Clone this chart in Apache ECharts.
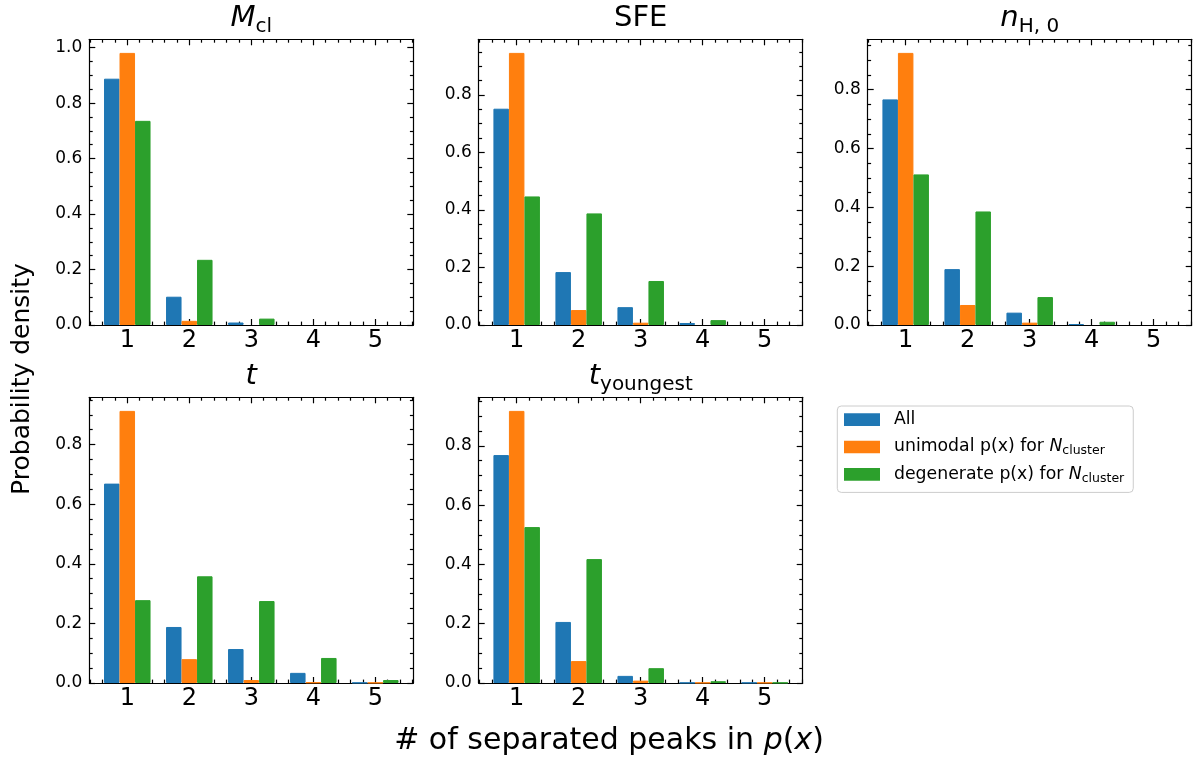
<!DOCTYPE html>
<html>
<head>
<meta charset="utf-8">
<script src="https://cdn.jsdelivr.net/npm/echarts@6/dist/echarts.min.js"></script>
<style>
  html, body { margin: 0; padding: 0; background: #fff; }
  #chart { width: 1195px; height: 763px; }
</style>
</head>
<body>
<div id="chart"></div>
<script>
// Number of separated peaks found in p(x)
const peaks = [1, 2, 3, 4, 5];

// Panel titles (rich text: i = italic math, s = subscript)
const panelTitles = ['{i|M}{s|cl}', '{r|SFE}', '{i|n}{s|H, 0}', '{i|t}', '{i|t}{s|youngest}'];

const seriesNames = ['All', 'unimodal', 'degenerate'];
const legendLabels = {
  All: 'All',
  unimodal: 'unimodal p(x) for {i|N}{s|cluster}',
  degenerate: 'degenerate p(x) for {i|N}{s|cluster}'
};
const yAxisTitle = 'Probability density';
const xAxisTitle = '# of separated peaks in {i|p}({i|x})';

// Probability density per panel: All / unimodal / degenerate
const allMcl = [0.888, 0.102, 0.009, 0, 0];
const uniMcl = [0.981, 0.015, 0, 0, 0];
const degMcl = [0.736, 0.235, 0.023, 0, 0];

const allSFE = [0.752, 0.184, 0.062, 0.007, 0];
const uniSFE = [0.946, 0.052, 0.008, 0, 0];
const degSFE = [0.447, 0.388, 0.153, 0.017, 0];

const allNH = [0.767, 0.190, 0.042, 0.003, 0];
const uniNH = [0.925, 0.068, 0.008, 0, 0];
const degNH = [0.512, 0.386, 0.095, 0.011, 0];

const allT = [0.669, 0.188, 0.114, 0.034, 0.001];
const uniT = [0.913, 0.080, 0.010, 0.002, 0.001];
const degT = [0.278, 0.358, 0.275, 0.084, 0.010];

const allTy = [0.769, 0.206, 0.024, 0.001, 0.001];
const uniTy = [0.918, 0.074, 0.008, 0.001, 0.001];
const degTy = [0.526, 0.418, 0.050, 0.006, 0.001];

const panelData = [
  [allMcl, uniMcl, degMcl],
  [allSFE, uniSFE, degSFE],
  [allNH, uniNH, degNH],
  [allT, uniT, degT],
  [allTy, uniTy, degTy]
];

const colors = ['#1f77b4', '#ff7f0e', '#2ca02c'];
const FONT = 'DejaVu Sans';

// Panel geometry
const COL_LEFT = [89.3, 478.7, 867.7];
const ROW_TOP = [39.3, 397.3];
const PANEL_W = 324;
const PANEL_H = 285.7;

// x range: bars of width 0.25 (three per group) plus a 5% margin
const BAR_W = 0.25;
const barsLo = peaks[0] - 1.5 * BAR_W;
const barsHi = peaks[peaks.length - 1] + 1.5 * BAR_W;
const XMIN = barsLo - 0.05 * (barsHi - barsLo);
const XMAX = barsHi + 0.05 * (barsHi - barsLo);

function range(lo, hi, step) {
  const out = [];
  for (let k = Math.ceil(lo / step - 1e-9); k * step <= hi + 1e-9; k++) out.push(+(k * step).toFixed(6));
  return out;
}
const xMinor = range(XMIN, XMAX, 0.2).filter(v => Math.abs(v - Math.round(v)) > 1e-6);

const lineStyle = { color: '#000', width: 1.2 };

const grids = [], xAxes = [], yAxes = [], series = [], graphics = [];

panelData.forEach((group, p) => {
  const row = Math.floor(p / 3), col = p % 3;
  const left = COL_LEFT[col], top = ROW_TOP[row];
  const yMax = 1.05 * Math.max(...group.flat());
  const yMajor = range(0, yMax, 0.2);
  const yMinor = range(0, yMax, 0.05).filter(v => !yMajor.some(m => Math.abs(m - v) < 1e-6));

  // grid holding the bars and the major ticks / frame
  const gMain = grids.length;
  grids.push({ left, top, width: PANEL_W, height: PANEL_H, containLabel: false });
  // twin grid holding the minor ticks
  const gMinor = grids.length;
  grids.push({ left, top, width: PANEL_W, height: PANEL_H, containLabel: false });

  const xBase = { type: 'value', min: XMIN, max: XMAX, splitLine: { show: false } };
  const yBase = { type: 'value', min: 0, max: yMax, splitLine: { show: false } };

  const xi = xAxes.length;
  xAxes.push(Object.assign({}, xBase, {
    gridIndex: gMain, position: 'bottom',
    axisLine: { show: true, onZero: false, lineStyle },
    axisTick: { show: true, inside: true, length: 6, customValues: peaks, lineStyle },
    axisLabel: { show: true, customValues: peaks, fontSize: 24, fontFamily: FONT, color: '#000', margin: 4 }
  }));
  xAxes.push(Object.assign({}, xBase, {
    gridIndex: gMain, position: 'top',
    axisLine: { show: true, onZero: false, lineStyle },
    axisTick: { show: true, inside: true, length: 6, customValues: peaks, lineStyle },
    axisLabel: { show: false }
  }));
  ['bottom', 'top'].forEach(pos => xAxes.push(Object.assign({}, xBase, {
    gridIndex: gMinor, position: pos,
    axisLine: { show: false, onZero: false },
    axisTick: { show: true, inside: true, length: 3.4, customValues: xMinor, lineStyle },
    axisLabel: { show: false }
  })));

  const yi = yAxes.length;
  yAxes.push(Object.assign({}, yBase, {
    gridIndex: gMain, position: 'left',
    axisLine: { show: true, onZero: false, lineStyle },
    axisTick: { show: true, inside: true, length: 6, customValues: yMajor, lineStyle },
    axisLabel: { show: true, customValues: yMajor, fontSize: 17, fontFamily: FONT, color: '#000', margin: 7,
                 formatter: v => v.toFixed(1) }
  }));
  yAxes.push(Object.assign({}, yBase, {
    gridIndex: gMain, position: 'right',
    axisLine: { show: true, onZero: false, lineStyle },
    axisTick: { show: true, inside: true, length: 6, customValues: yMajor, lineStyle },
    axisLabel: { show: false }
  }));
  ['left', 'right'].forEach(pos => yAxes.push(Object.assign({}, yBase, {
    gridIndex: gMinor, position: pos,
    axisLine: { show: false, onZero: false },
    axisTick: { show: true, inside: true, length: 3.4, customValues: yMinor, lineStyle },
    axisLabel: { show: false }
  })));

  group.forEach((vals, s) => {
    series.push({
      type: 'bar',
      name: seriesNames[s],
      xAxisIndex: xi,
      yAxisIndex: yi,
      // a thin same-colour outline closes seams between neighbouring bars;
      // empty bins get no outline so nothing is drawn for them
      data: peaks.map((x, i) => ({
        value: [x, vals[i]],
        itemStyle: { borderWidth: vals[i] > 0 ? 1 : 0 }
      })),
      barWidth: (BAR_W * 100) + '%',
      barGap: '0%',
      itemStyle: { color: colors[s], borderColor: colors[s] },
      silent: true,
      z: 1
    });
  });

  graphics.push({
    type: 'text',
    x: left + PANEL_W / 2,
    y: top - 21,
    style: {
      text: panelTitles[p],
      textAlign: 'center',
      textVerticalAlign: 'middle',
      fill: '#000',
      rich: {
        r: { fontSize: 29, fontFamily: FONT, lineHeight: 36 },
        i: { fontSize: 29, fontFamily: FONT, fontStyle: 'italic', lineHeight: 36 },
        s: { fontSize: 20, fontFamily: FONT, lineHeight: 18, verticalAlign: 'bottom' }
      }
    }
  });
});

graphics.push({
  type: 'text',
  x: 22, y: 379,
  rotation: Math.PI / 2,
  style: { text: yAxisTitle, textAlign: 'center', textVerticalAlign: 'middle',
           fill: '#000', font: '25px "DejaVu Sans"' }
});
graphics.push({
  type: 'text',
  x: 609, y: 741,
  style: {
    text: xAxisTitle, textAlign: 'center', textVerticalAlign: 'middle', fill: '#000',
    fontSize: 30, fontFamily: FONT,
    rich: { i: { fontSize: 30, fontFamily: FONT, fontStyle: 'italic' } }
  }
});

const chart = echarts.init(document.getElementById('chart'), null, { renderer: 'canvas' });
chart.setOption({
  animation: false,
  backgroundColor: '#fff',
  grid: grids,
  xAxis: xAxes,
  yAxis: yAxes,
  series,
  legend: {
    data: seriesNames,
    orient: 'vertical',
    left: 837.3,
    top: 406,
    icon: 'rect',
    itemWidth: 36,
    itemHeight: 12.7,
    itemGap: 6.3,
    padding: [3.2, 9, 7.6, 6.7],
    borderColor: '#cccccc',
    borderWidth: 1,
    borderRadius: 4,
    backgroundColor: '#fff',
    selectedMode: false,
    formatter: name => legendLabels[name],
    textStyle: {
      fontSize: 17.3, fontFamily: FONT, color: '#000', lineHeight: 21, padding: [0, 0, 0, 9],
      rich: {
        i: { fontSize: 17.3, fontFamily: FONT, fontStyle: 'italic', lineHeight: 21 },
        s: { fontSize: 12.5, fontFamily: FONT, lineHeight: 12, verticalAlign: 'bottom' }
      }
    }
  },
  graphic: graphics
});
</script>
</body>
</html>
